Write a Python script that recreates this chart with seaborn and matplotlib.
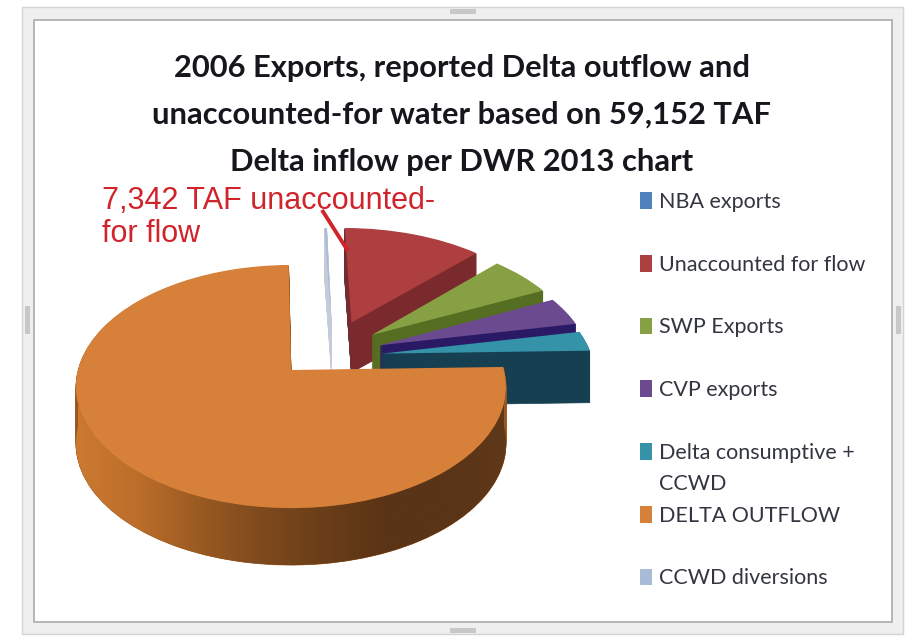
import numpy as np
import matplotlib
matplotlib.use("Agg")
import matplotlib.pyplot as plt
import matplotlib.transforms as mtransforms
from matplotlib.colors import LinearSegmentedColormap
from matplotlib.patches import Wedge, Rectangle, Polygon
import seaborn as sns

# Data
categories = ["NBA exports", "Unaccounted for flow", "SWP Exports", "CVP exports",
              "Delta consumptive +", "DELTA OUTFLOW", "CCWD diversions"]
flows_taf = [15, 7342, 3290, 2300, 1600, 44485, 120]
title_lines = ["2006 Exports, reported Delta outflow and",
               "unaccounted-for water based on 59,152 TAF",
               "Delta inflow per DWR 2013 chart"]

# Styles
top_colors = ["#4F81BD", "#AD3F40", "#86A043", "#6C4A90", "#3493A9", "#D6803A", "#A9BBD6"]
side_colors = ["#2F4F78", "#7A2A2C", "#566E22", "#2A1A66", "#163F52", "#9A5620", "#C4CCDA"]
offsets = [(0.30, 0.42), (0.30, 0.42), (0.396, 0.306), (0.43, 0.214),
           (0.435, 0.14), (0, 0), (0.2, 0.42)]
depths = [50, 50, 46, 46, 52, 57, 48]
draw_order = [6, 0, 1, 2, 3, 4, 5]

sns.set_theme(style="white")
plt.rcParams["font.family"] = ["Lato", "DejaVu Sans"]


class Perspective(mtransforms.Transform):
    # tilted pie: back of the disc is flatter and narrower than the front
    input_dims = 2
    output_dims = 2
    is_affine = False

    def transform_non_affine(self, values):
        values = np.asarray(values, dtype=float)
        w = 1 + 0.136 * values[:, 1]
        return np.column_stack((291 + 213 * values[:, 0] / w, 370 - 119.3 * values[:, 1] / w))


fig = plt.figure(figsize=(9.24, 6.4), dpi=100)
ax = fig.add_axes([0, 0, 1, 1])
wedges, _ = ax.pie(flows_taf, colors=sns.color_palette(top_colors), startangle=90,
                   counterclock=False, wedgeprops={"linewidth": 0})
ax.set_aspect("auto")
ax.set_xlim(0, 924)
ax.set_ylim(640, 0)
ax.axis("off")

# window frame around the pasted chart
ax.add_patch(Rectangle((22, 7), 881, 627, fc="#EFEFEF", ec="#D4D4D4", lw=1, zorder=0))
ax.add_patch(Rectangle((34, 20), 858, 602, fc="white", ec="#B5B5B5", lw=1.4, zorder=0.1))
for hx, hy, hw, hh in [(450, 9, 26, 5), (450, 628, 26, 5), (25, 306, 5, 28), (896, 306, 5, 28)]:
    ax.add_patch(Rectangle((hx, hy), hw, hh, fc="#C8C8C8", ec="none", zorder=0.2))

persp = Perspective()
for z, i in enumerate(draw_order):
    w = wedges[i]
    w.set_center(offsets[i])
    w.set_transform(persp + ax.transData)
    w.set_zorder(2 + z + 0.5)
    for k in range(depths[i], 0, -1):
        layer = Wedge(offsets[i], 1, w.theta1, w.theta2, fc=side_colors[i], ec=side_colors[i], lw=0.5,
                      zorder=2 + z)
        layer.set_transform(persp + mtransforms.Affine2D().translate(0, k) + ax.transData)
        ax.add_patch(layer)

# front wall of the outflow slice darkens from left to right
outflow_i = categories.index("DELTA OUTFLOW")
theta = np.radians(np.linspace(180, 360, 120))
rim = persp.transform_non_affine(np.column_stack((np.cos(theta), np.sin(theta))))
wall = np.vstack((rim, rim[::-1] + [0, depths[outflow_i]]))
band = LinearSegmentedColormap.from_list("band", ["#CC7A30", "#BC6E2A", "#9A5A22", "#7E4A1C", "#6A3E18",
                                                  "#5A3416", "#5A3416", "#60381A"])
img = ax.imshow(np.linspace(0, 1, 256)[None, :], cmap=band, extent=(75, 510, 590, 370), aspect="auto",
                zorder=2 + draw_order.index(outflow_i) + 0.2)
clip = Polygon(wall, transform=ax.transData)
img.set_clip_path(clip)
ax.set_xlim(0, 924)
ax.set_ylim(640, 0)

# title
for line, y in zip(title_lines, [68, 115, 162]):
    ax.text(462, y, line, ha="center", va="center", fontsize=22.2, fontweight="bold", color="#15171C", zorder=30)

# callout
ax.text(102, 217.5, "7,342 TAF unaccounted-\nfor flow", ha="left", va="center", fontsize=22,
        family=["Liberation Sans"], color="#D0242B", linespacing=1.15, zorder=30)
ax.plot([322, 348], [210, 251], color="#D0242B", lw=2.8, solid_capstyle="butt", zorder=30)

# legend
leg = ax.legend(wedges, categories, loc="upper left", bbox_to_anchor=(640 / 924, 1 - 192 / 640),
                frameon=False, fontsize=15.5, labelspacing=1.985, handlelength=0.56, handleheight=0.82,
                handletextpad=0.32, labelcolor="#333640", borderpad=0, borderaxespad=0)
leg.set_zorder(30)
ax.text(659, 484, "CCWD", ha="left", va="center", fontsize=15.5, color="#333640", zorder=30)

fig.savefig("out.png", dpi=100)
